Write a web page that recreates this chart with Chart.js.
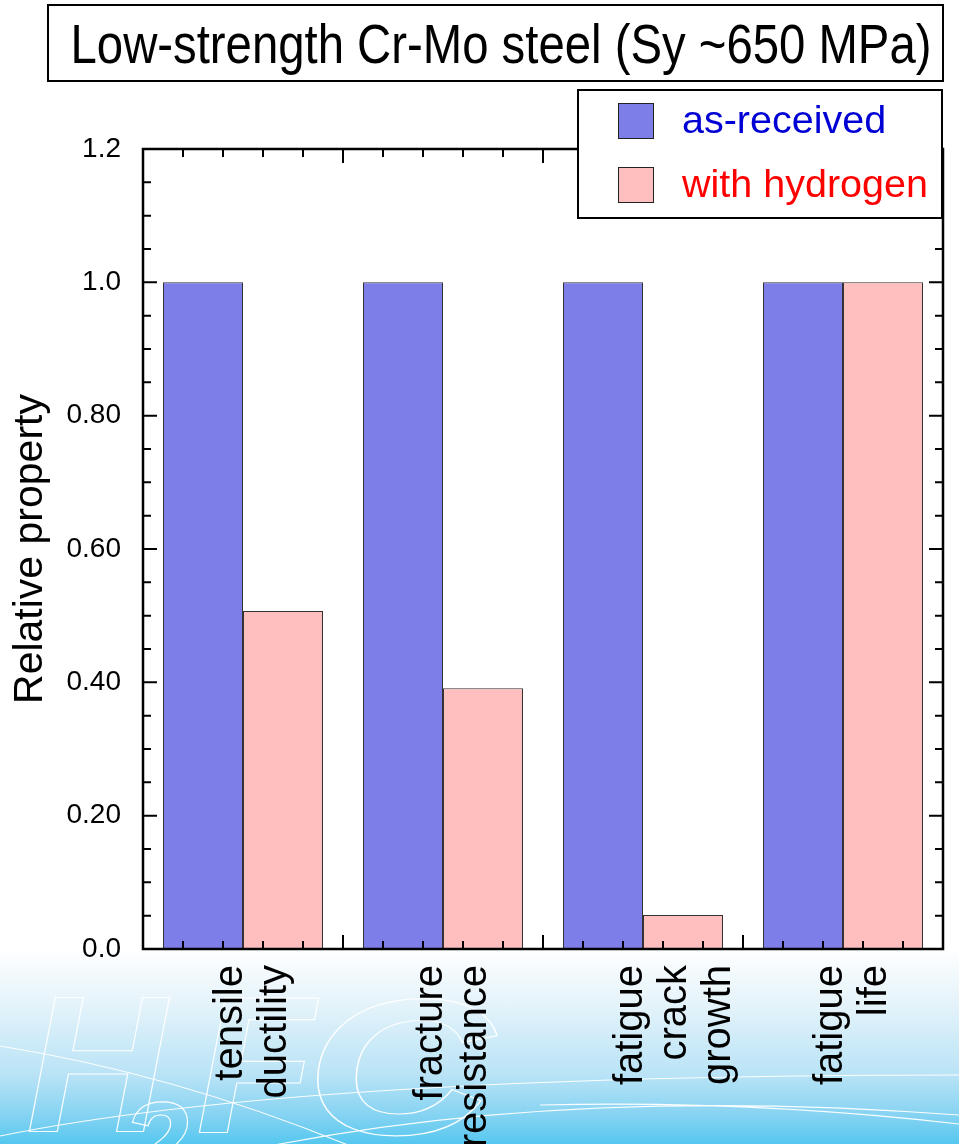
<!DOCTYPE html>
<html lang="en">
<head>
    <meta charset="UTF-8">
    <title>Low-strength Cr-Mo steel</title>
    <script src="https://cdn.jsdelivr.net/npm/chart.js"></script>
    <style>
        html, body { margin: 0; padding: 0; }
        body {
            width: 959px; height: 1144px; overflow: hidden;
            background: linear-gradient(to bottom, #fff 0, #fff 948px, #e4f3fa 1005px, #b9e3f6 1075px, #86d3f2 1115px, #55c7ef 1144px);
        }
        canvas { display: block; }
    </style>
</head>
<body>
    <canvas id="propChart" width="959" height="1144"></canvas>
    <script>
        const FONT = '"Liberation Sans", Arial, Helvetica, sans-serif';

        const chartTitle = 'Low-strength Cr-Mo steel (Sy ~650 MPa)';
        const categories = [
            ['tensile', 'ductility'],
            ['fracture', 'resistance'],
            ['fatigue', 'crack', 'growth'],
            ['fatigue', 'life']
        ];
        const asReceived = [1.0, 1.0, 1.0, 1.0];
        const withHydrogen = [0.507, 0.391, 0.051, 1.0];
        const yTickLabels = ['0.0', '0.20', '0.40', '0.60', '0.80', '1.0', '1.2'];

        // background H2FC logo outline + swooshes (decorative)
        const logoBg = {
            id: 'logoBg',
            beforeDraw(chart) {
                const ctx = chart.ctx;
                ctx.save();
                ctx.strokeStyle = 'rgba(255,255,255,0.95)';
                ctx.lineWidth = 1.2;
                ctx.textBaseline = 'alphabetic';
                ctx.font = 'italic bold 194px ' + FONT;
                ctx.strokeText('H', 26, 1132);
                ctx.strokeText('F', 196, 1132);
                ctx.save();
                ctx.scale(1.35, 1);
                ctx.strokeText('C', 305 / 1.35, 1134);
                ctx.restore();
                ctx.font = 'italic bold 120px ' + FONT;
                ctx.strokeText('2', 122, 1186);
                ctx.beginPath();
                ctx.moveTo(0, 1046);
                ctx.quadraticCurveTo(180, 1075, 360, 1150);
                ctx.moveTo(0, 1136);
                ctx.quadraticCurveTo(300, 1075, 959, 1075);
                ctx.moveTo(250, 1150);
                ctx.quadraticCurveTo(560, 1085, 959, 1115);
                ctx.moveTo(540, 1105);
                ctx.quadraticCurveTo(750, 1100, 959, 1124);
                ctx.stroke();
                ctx.restore();
            }
        };

        // inward ticks on all four sides + frame, title box, legend box
        const decor = {
            id: 'decor',
            afterDatasetsDraw(chart) {
                const { ctx, chartArea: a, scales: { x, y } } = chart;
                ctx.save();
                ctx.strokeStyle = '#000';
                ctx.lineWidth = 2;
                ctx.beginPath();
                for (let i = 0; i <= 24; i++) {
                    const py = y.getPixelForValue(i * 0.05);
                    const len = i % 4 === 0 ? 14 : 8;
                    ctx.moveTo(a.left, py); ctx.lineTo(a.left + len, py);
                    ctx.moveTo(a.right, py); ctx.lineTo(a.right - len, py);
                }
                for (let i = 0; i <= 20; i++) {
                    const px = x.getPixelForValue(-0.5 + i * 0.2);
                    const len = i % 5 === 0 ? 14 : 8;
                    ctx.moveTo(px, a.bottom); ctx.lineTo(px, a.bottom - len);
                    ctx.moveTo(px, a.top); ctx.lineTo(px, a.top + len);
                }
                ctx.stroke();
                ctx.lineWidth = 2.5;
                ctx.strokeRect(a.left, a.top, a.right - a.left, a.bottom - a.top);
                ctx.restore();
            },
            afterDraw(chart) {
                const ctx = chart.ctx;
                ctx.save();
                // title box
                ctx.fillStyle = '#fff';
                ctx.fillRect(48, 5, 895, 76);
                ctx.strokeStyle = '#000';
                ctx.lineWidth = 2;
                ctx.strokeRect(48, 5, 895, 76);
                ctx.fillStyle = '#000';
                ctx.font = '55px ' + FONT;
                ctx.textAlign = 'center';
                ctx.textBaseline = 'alphabetic';
                ctx.save();
                ctx.scale(0.86, 1);   // narrow face like the original
                ctx.fillText(chartTitle, 501 / 0.86, 63);
                ctx.restore();

                // legend box
                ctx.fillStyle = '#fff';
                ctx.fillRect(578, 90, 364, 128);
                ctx.strokeRect(578, 90, 364, 128);
                ctx.font = '39.5px ' + FONT;
                ctx.textAlign = 'left';
                ctx.textBaseline = 'middle';
                const textCols = ['#0000d4', '#ff0000'];
                chart.data.datasets.forEach((ds, i) => {
                    const top = 103 + i * 64;
                    ctx.fillStyle = ds.backgroundColor;
                    ctx.fillRect(618, top, 36, 36);
                    ctx.lineWidth = 1;
                    ctx.strokeStyle = '#222';
                    ctx.strokeRect(618.5, top + 0.5, 35, 35);
                    ctx.fillStyle = textCols[i];
                    ctx.fillText(ds.label, 682, top + 19);
                });
                ctx.restore();
            }
        };

        const ctx = document.getElementById('propChart').getContext('2d');
        new Chart(ctx, {
            type: 'bar',
            data: {
                labels: categories,
                datasets: [
                    {
                        label: 'as-received',
                        data: asReceived,
                        backgroundColor: '#7d7ee8',
                        borderColor: '#333',
                        borderWidth: 1,
                        borderSkipped: false
                    },
                    {
                        label: 'with hydrogen',
                        data: withHydrogen,
                        backgroundColor: '#ffbfbf',
                        borderColor: '#333',
                        borderWidth: 1,
                        borderSkipped: false
                    }
                ]
            },
            options: {
                responsive: false,
                animation: false,
                devicePixelRatio: 1,
                layout: { padding: { top: 149, right: 16, left: 0, bottom: 0 } },
                categoryPercentage: 0.8,
                barPercentage: 1.0,
                plugins: {
                    legend: { display: false },
                    title: { display: false },
                    tooltip: { enabled: false }
                },
                scales: {
                    x: {
                        grid: { display: false, drawTicks: false },
                        border: { display: false },
                        ticks: {
                            color: '#000',
                            font: { family: FONT, size: 40, lineHeight: 1.1 },
                            minRotation: 90,
                            maxRotation: 90,
                            autoSkip: false,
                            labelOffset: -12,
                            padding: 16
                        },
                        afterFit(scale) { scale.height = 195; }
                    },
                    y: {
                        min: 0,
                        max: 1.2,
                        grid: { display: false, drawTicks: false },
                        border: { display: false },
                        ticks: {
                            stepSize: 0.2,
                            color: '#000',
                            font: { family: FONT, size: 28 },
                            padding: 22,
                            callback: (v) => yTickLabels[Math.round(v / 0.2)]
                        },
                        title: {
                            display: true,
                            text: 'Relative property',
                            color: '#000',
                            font: { family: FONT, size: 41 },
                            padding: { top: 6, bottom: 0 }
                        },
                        afterFit(scale) { scale.width = 143; }
                    }
                }
            },
            plugins: [logoBg, decor]
        });
    </script>
</body>
</html>
